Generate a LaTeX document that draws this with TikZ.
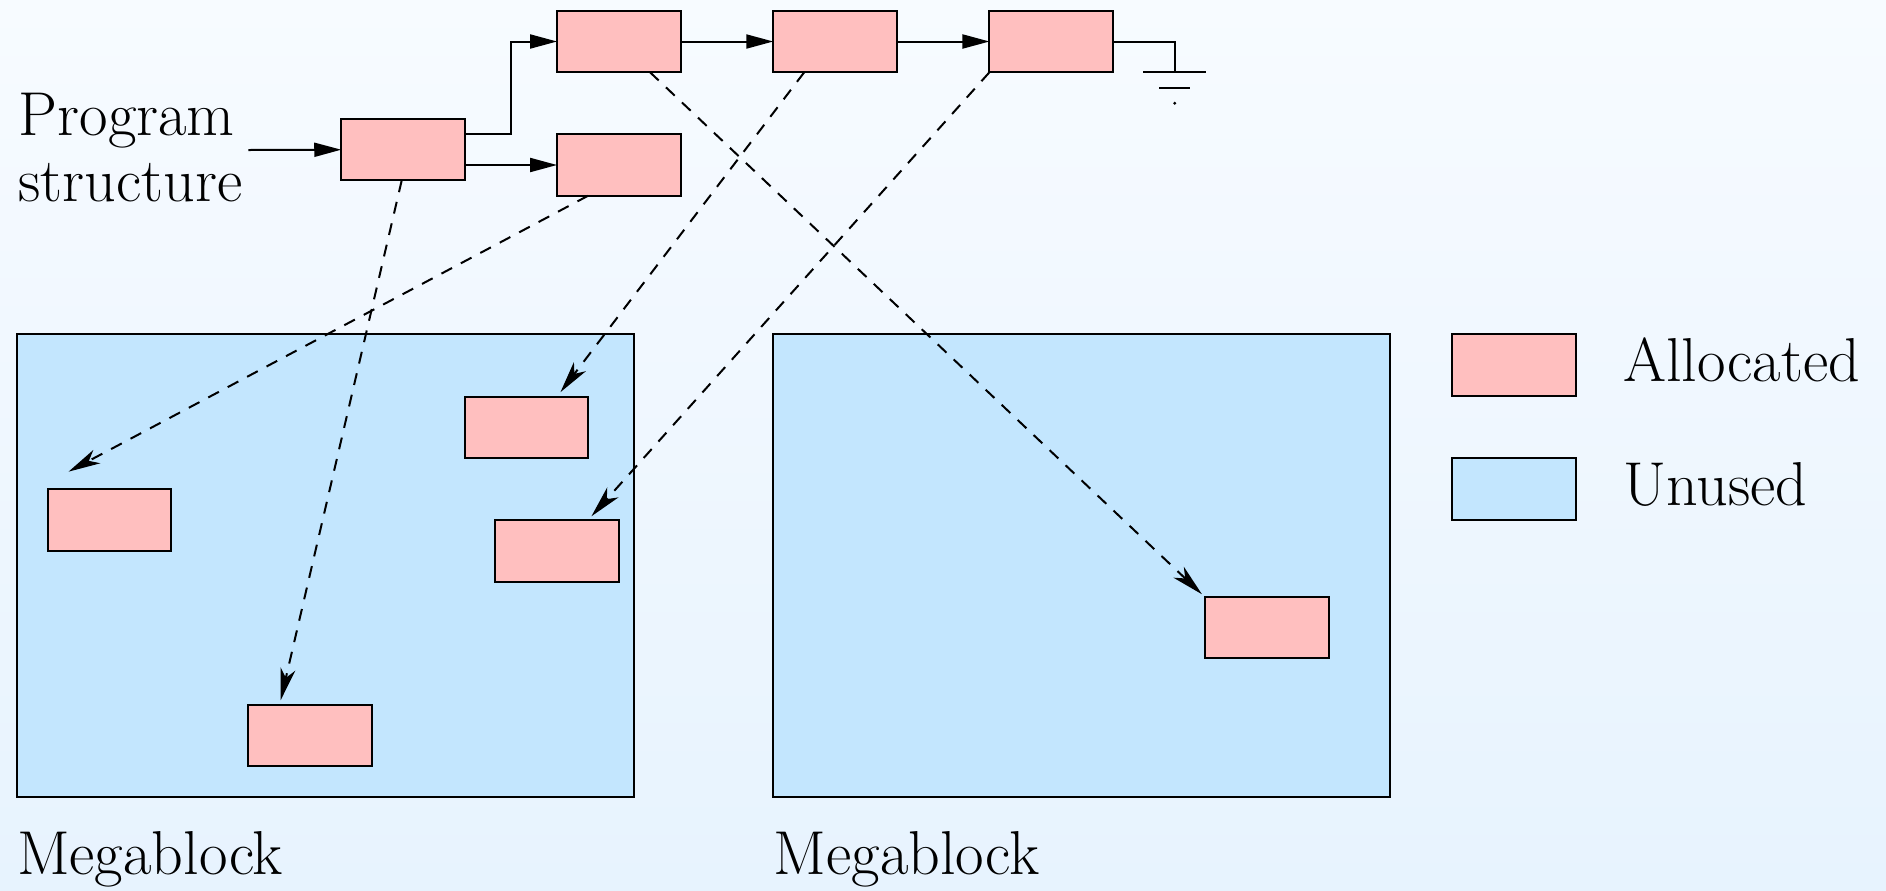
\documentclass[tikz,border=0pt]{standalone}
\usepackage{fontspec}
\usetikzlibrary{arrows.meta,calc}

\definecolor{allocfill}{RGB}{255,191,191}
\definecolor{unusedfill}{RGB}{195,230,254}
\definecolor{bgtop}{RGB}{247,251,255}
\definecolor{bgbottom}{RGB}{231,243,254}

\tikzset{
  blockbox/.style={draw=black, line width=1pt, fill=allocfill, rectangle,
    minimum width=61.75pt, minimum height=30.75pt, inner sep=0pt, outer sep=0pt},
  megabox/.style={draw=black, line width=1pt, fill=unusedfill, rectangle,
    minimum width=308.6pt, minimum height=231.5pt, inner sep=0pt, outer sep=0pt},
  keybox/.style={blockbox},
  link/.style={line width=1pt, -{Triangle[length=13.5pt,width=7pt]}},
  pointer/.style={line width=1pt, dash pattern=on 6pt off 5pt,
    -{Stealth[length=16pt,width=7.5pt,inset=4.5pt]}},
  label/.style={font=\fontsize{31}{33.35}\selectfont, inner sep=0pt, anchor=base west},
}

\begin{document}
\begin{tikzpicture}[x=0.5pt, y=-0.5pt]
  % background
  \useasboundingbox (0,0) rectangle (1886,890);
  \shade[top color=bgtop, bottom color=bgbottom] (0,0) rectangle (1886,890);

  % heap megablocks
  \node[megabox] (mb1) at (325.35,565.9) {};
  \node[megabox] (mb2) at (1081.2,565.9) {};

  % program structure
  \node[blockbox] (A) at (403,149.7) {};
  \node[blockbox] (B) at (618.8,41.5) {};
  \node[blockbox] (C) at (835,41.5) {};
  \node[blockbox] (D) at (1051.2,41.5) {};
  \node[blockbox] (E) at (618.8,165) {};

  % allocated objects inside the megablocks
  \node[blockbox] (m1) at (526.3,427.3) {};
  \node[blockbox] (m2) at (557,551) {};
  \node[blockbox] (m3) at (109.7,520) {};
  \node[blockbox] (m4) at (310,735.3) {};
  \node[blockbox] (m5) at (1267,627.7) {};

  % legend
  \node[keybox] (kA) at (1513.8,365) {};
  \node[keybox, fill=unusedfill] (kU) at (1513.8,489) {};
  \node[label] (tA) at (1623,381) {Allocated};
  \node[label] (tU) at (1623,505) {Unused};

  % captions
  \node[label] (p1) at (18.3,135) {Program};
  \node[label] (p2) at (18.3,201.7) {structure};
  \node[label] (g1) at (16.7,874) {Megablock};
  \node[label] (g2) at (773.5,874) {Megablock};

  % structure links
  \coordinate (in) at (248.3,150);
  \draw[link] (in) -- (A.west);
  \draw[link] ($(A.east)+(0,-15.4)$) -- ++(46,0) |- (B.west);
  \draw[link] (A.east |- E.west) -- (E.west);
  \draw[link] (B.east) -- (C.west);
  \draw[link] (C.east) -- (D.west);

  % null terminator (ground)
  \coordinate (gnd) at (1174.7,72.3);
  \draw[line width=1pt] (D.east) -| (gnd);
  \draw[line width=1pt] ($(gnd)+(-31.4,0)$) -- ($(gnd)+(31,0)$);
  \draw[line width=1pt] ($(gnd)+(-15.7,15.7)$) -- ($(gnd)+(15.3,15.7)$);
  \fill ($(gnd)+(0,31)$) circle (0.8pt);

  % pointers into the heap
  \draw[pointer] ($(A.south)+(-1.3,0)$) -- ($(m4.north west)+(32.4,-4.3)$);
  \draw[pointer] ($(E.south west)+(31,0)$) -- ($(m3.north west)+(20.6,-17.6)$);
  \draw[pointer] ($(C.south west)+(31,0)$) -- ($(m1.north east)+(-27.6,-4.4)$);
  \draw[pointer] (D.south west) -- ($(m2.north east)+(-27.3,-4)$);
  \draw[pointer] ($(B.south)+(31.2,0)$) -- ($(m5.north west)+(-3.3,-2.7)$);
\end{tikzpicture}
\end{document}
